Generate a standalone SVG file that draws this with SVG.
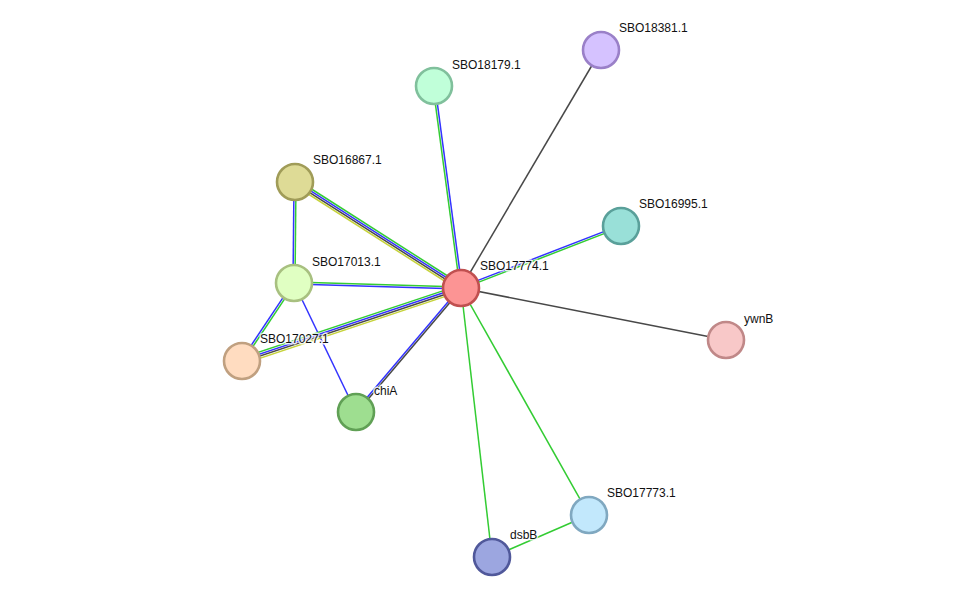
<svg xmlns="http://www.w3.org/2000/svg" width="975" height="602" viewBox="0 0 975 602">
<style>
.e{stroke-width:1.5;fill:none}
.g{stroke:#33cc33}.b{stroke:#3333ff}.k{stroke:#484848}.y{stroke:#c6d33a}
.n{stroke-width:2.6}
.t{font-family:"Liberation Sans",Arial,sans-serif;font-size:12px;fill:#111;stroke:#fff;stroke-width:3;stroke-opacity:0.8;paint-order:stroke;stroke-linejoin:round}
</style>
<rect width="975" height="602" fill="#fff"/>
<g id="edges">
<line class="e g" x1="296.6" y1="179.5" x2="462.6" y2="285.5"/>
<line class="e b" x1="295.5" y1="181.2" x2="461.5" y2="287.2"/>
<line class="e k" x1="294.5" y1="182.8" x2="460.5" y2="288.8"/>
<line class="e y" x1="293.4" y1="184.5" x2="459.4" y2="290.5"/>
<line class="e b" x1="294" y1="182" x2="293" y2="283"/>
<line class="e g" x1="296" y1="182" x2="295" y2="283"/>
<line class="e g" x1="294" y1="282" x2="461" y2="287"/>
<line class="e b" x1="294" y1="284" x2="461" y2="289"/>
<line class="e b" x1="293.2" y1="282.4" x2="241.2" y2="360.4"/>
<line class="e g" x1="294.8" y1="283.6" x2="242.8" y2="361.6"/>
<line class="e b" x1="294" y1="283" x2="356" y2="412"/>
<line class="e g" x1="241.05" y1="358.15" x2="460.05" y2="285.15"/>
<line class="e b" x1="241.7" y1="360.05" x2="460.7" y2="287.05"/>
<line class="e k" x1="242.3" y1="361.95" x2="461.3" y2="288.95"/>
<line class="e y" x1="242.95" y1="363.85" x2="461.95" y2="290.85"/>
<line class="e b" x1="355.2" y1="411.4" x2="460.2" y2="287.4"/>
<line class="e k" x1="356.8" y1="412.6" x2="461.8" y2="288.6"/>
<line class="e g" x1="433" y1="86.1" x2="460" y2="288.1"/>
<line class="e b" x1="435" y1="85.9" x2="462" y2="287.9"/>
<line class="e b" x1="620.6" y1="225.1" x2="460.6" y2="287.1"/>
<line class="e g" x1="621.4" y1="226.9" x2="461.4" y2="288.9"/>
<line class="e k" x1="601" y1="50" x2="461" y2="288"/>
<line class="e k" x1="726" y1="340" x2="461" y2="288"/>
<line class="e g" x1="589" y1="515" x2="461" y2="288"/>
<line class="e g" x1="492" y1="557" x2="461" y2="288"/>
<line class="e g" x1="492" y1="557" x2="589" y2="515"/>
</g>
<g id="SBO18381.1"><circle class="n" cx="601" cy="50" r="18" fill="#d5c2ff" stroke="#9a80c8"/><text class="t" x="619" y="32">SBO18381.1</text></g>
<g id="SBO18179.1"><circle class="n" cx="434" cy="86" r="18" fill="#c0ffd9" stroke="#80c09c"/><text class="t" x="452" y="69">SBO18179.1</text></g>
<g id="SBO16867.1"><circle class="n" cx="295" cy="182" r="18" fill="#dedb96" stroke="#a09c58"/><text class="t" x="313" y="164">SBO16867.1</text></g>
<g id="SBO16995.1"><circle class="n" cx="621" cy="226" r="18" fill="#99e0d8" stroke="#5aa09a"/><text class="t" x="639" y="208">SBO16995.1</text></g>
<g id="SBO17013.1"><circle class="n" cx="294" cy="283" r="18" fill="#e0ffc2" stroke="#a8c080"/><text class="t" x="312" y="266">SBO17013.1</text></g>
<g id="SBO17027.1"><circle class="n" cx="242" cy="361" r="18" fill="#ffdcc0" stroke="#c0a080"/><text class="t" x="260" y="343">SBO17027.1</text></g>
<g id="chiA"><circle class="n" cx="356" cy="412" r="18" fill="#9ede90" stroke="#60a055"/><text class="t" x="374" y="395">chiA</text></g>
<g id="ywnB"><circle class="n" cx="726" cy="340" r="18" fill="#f8c8c8" stroke="#c08888"/><text class="t" x="744" y="323">ywnB</text></g>
<g id="SBO17773.1"><circle class="n" cx="589" cy="515" r="18" fill="#c2e8fc" stroke="#80a8c0"/><text class="t" x="607" y="497">SBO17773.1</text></g>
<g id="dsbB"><circle class="n" cx="492" cy="557" r="18" fill="#9ca6e0" stroke="#50589a"/><text class="t" x="510" y="539">dsbB</text></g>
<g id="SBO17774.1"><circle class="n" cx="461" cy="288" r="18" fill="#fc9494" stroke="#c05050"/><text class="t" x="480" y="270">SBO17774.1</text></g>
</svg>
